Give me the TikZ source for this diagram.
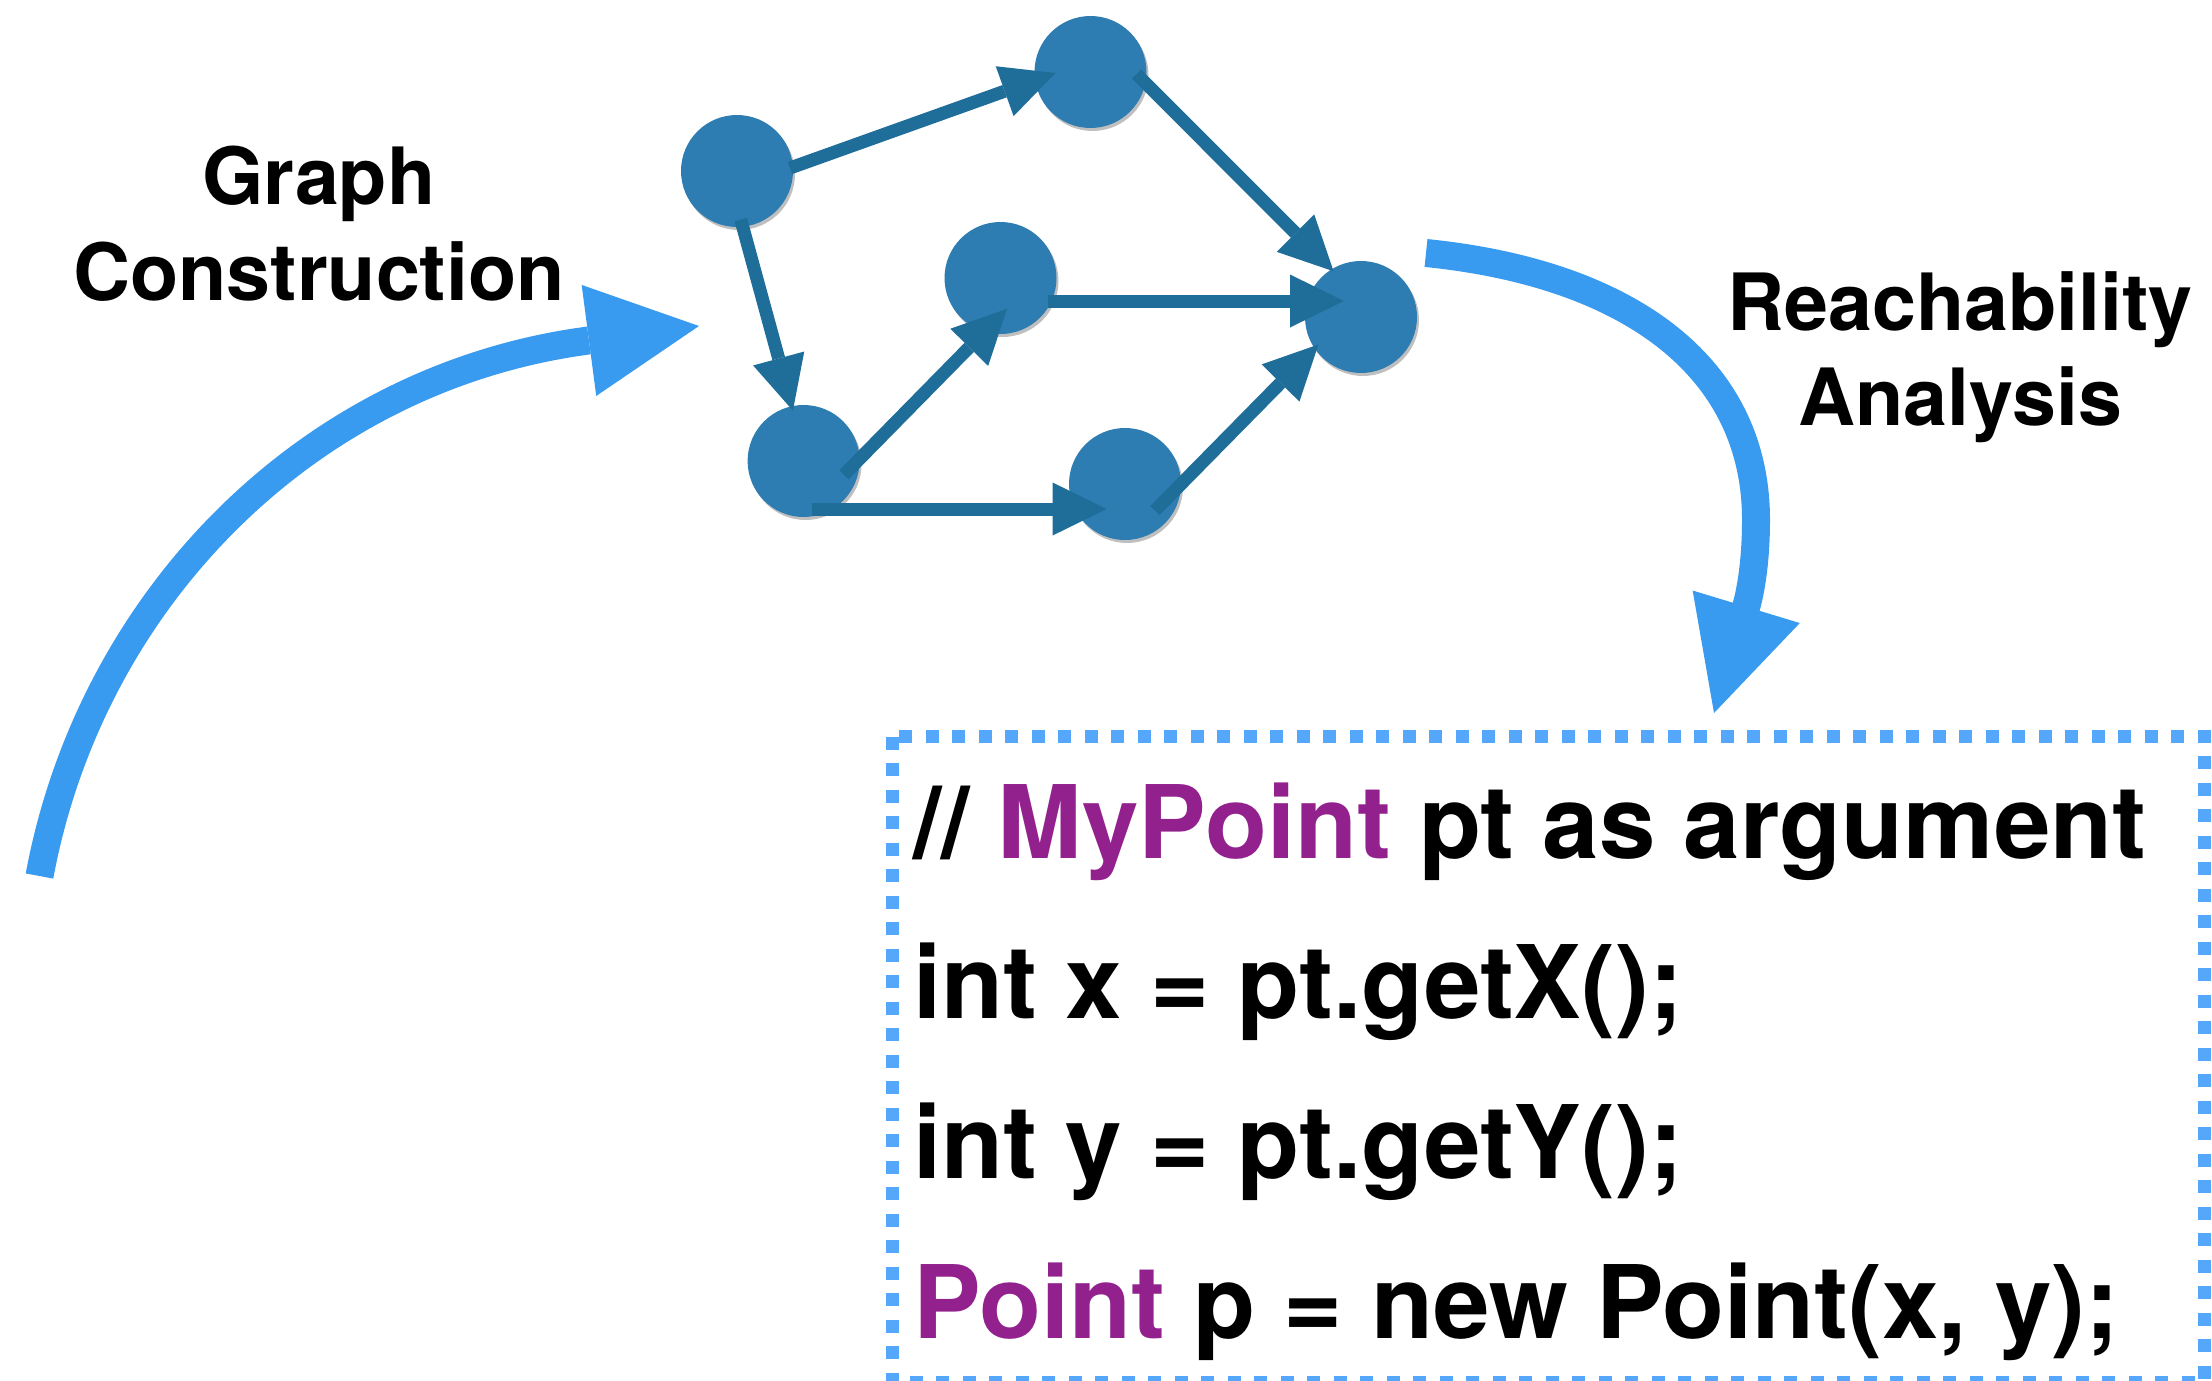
\documentclass[tikz,border=0pt]{standalone}
\usepackage{fontspec}
\setmainfont{TeX Gyre Heros}
\usetikzlibrary{arrows.meta,calc,shadows}

\definecolor{nodeblue}{RGB}{46,125,178}
\definecolor{edgeblue}{RGB}{31,110,153}
\definecolor{flowblue}{RGB}{57,155,240}
\definecolor{frameblue}{RGB}{84,167,250}
\definecolor{typepurple}{RGB}{146,33,142}

\begin{document}
\begin{tikzpicture}[x=1pt,y=-1pt,
  vertex/.style={circle,fill=nodeblue,minimum size=112pt,inner sep=0pt,draw=none,
    drop shadow={shadow xshift=2pt,shadow yshift=-3pt,opacity=0.25,fill=black}},
  dagedge/.style={draw=edgeblue,line width=13pt,
    -{Triangle[length=54pt,width=53pt,line width=0pt]}},
  flowarrow/.style={draw=flowblue,line width=28pt,
    -{Triangle[length=111pt,width=112pt,line width=0pt]}},
  stagetext/.style={font=\bfseries\fontsize{79}{95}\selectfont,inner sep=0pt,anchor=base},
  codeline/.style={font=\bfseries\fontsize{101.5}{160}\selectfont,inner sep=0pt,anchor=base west},
  codeframe/.style={draw=frameblue,line width=13pt,dash pattern=on 13pt off 13.5pt}
]
\useasboundingbox (0,0) rectangle (2212,1381);
\clip (0,0) rectangle (2212,1381);

% stage labels
\node[stagetext] (g1) at (319,204.5) {Graph};
\node[stagetext] (g2) at (319,300) {Construction};
\node[stagetext] (r1) at (1960,330) {Reachability};
\node[stagetext] (r2) at (1960,425.6) {Analysis};

% big flow arrows (the last straight piece carries the head)
\coordinate (gcStart) at (39.5,876);
\coordinate (gcEnd) at (699,326);
\draw[flowarrow] (gcStart) .. controls (91,598.7) and (309,377.3) .. (588.5,340.5)
  -- (gcEnd);

\coordinate (raStart) at (1426,253);
\coordinate (raEnd) at (1714,713);
\draw[flowarrow] (raStart) .. controls (1624.6,273) and (1756,364) .. (1756,520)
  .. controls (1756,560) and (1751,590) .. (1746,607.5) -- (raEnd);

% dependency graph
\node[vertex] (n1) at (737,171) {};
\node[vertex] (n2) at (1090.5,72) {};
\node[vertex] (n3) at (1000.5,278) {};
\node[vertex] (n4) at (1361,317) {};
\node[vertex] (n5) at (803.6,461) {};
\node[vertex] (n6) at (1125,484) {};

\draw[dagedge] ($(n1)+(53,-3)$) -- ($(n2)+(-35,1)$);
\draw[dagedge] ($(n2)+(46,2)$) -- ($(n4)+(-27.4,-45.7)$);
\draw[dagedge] ($(n1)+(3.8,48.6)$) -- ($(n5)+(-10.7,-50.4)$);
\draw[dagedge] ($(n5)+(40.3,13.8)$) -- ($(n3)+(6.6,30.8)$);
\draw[dagedge] ($(n3)+(47.5,23)$) -- ($(n4)+(-17,-16)$);
\draw[dagedge] ($(n5)+(8.6,48)$) -- ($(n6)+(-18.4,25)$);
\draw[dagedge] ($(n6)+(30,26.5)$) -- ($(n4)+(-42.6,27.5)$);

% code snippet
\draw[codeframe] (892.5,736.5) rectangle (2204.5,1382);
\node[codeline] (c1) at (913,858.5) {// \textcolor{typepurple}{MyPoint} pt as argument};
\node[codeline] (c2) at (913,1018.3) {int x = pt.getX();};
\node[codeline] (c3) at (913,1178.6) {int y = pt.getY();};
\node[codeline] (c4) at (913,1338.4) {\textcolor{typepurple}{Point} p = new Point(x, y);};
\end{tikzpicture}
\end{document}
